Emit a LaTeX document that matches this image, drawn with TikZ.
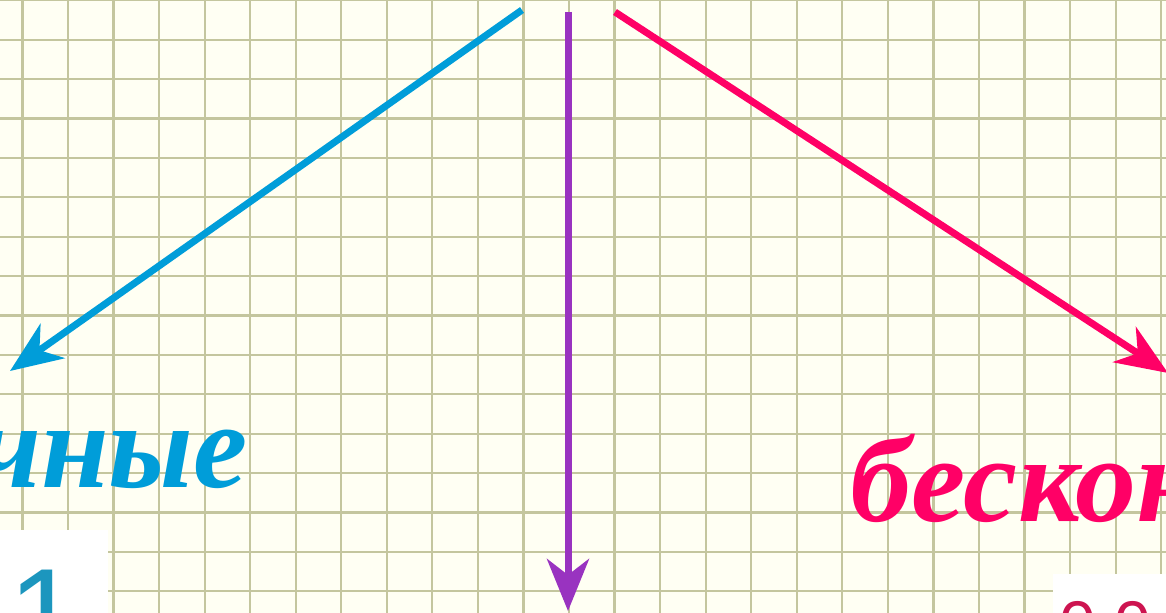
\documentclass[tikz,border=0pt]{standalone}
\usepackage{fontspec}
\setmainfont{Liberation Serif}
\newfontfamily\digitfont{Liberation Sans}
\usetikzlibrary{arrows.meta}
\definecolor{paper}{RGB}{255,255,243}
\definecolor{gridcol}{RGB}{196,198,158}
\definecolor{finblue}{RGB}{0,157,217}
\definecolor{perpurple}{RGB}{153,51,192}
\definecolor{infpink}{RGB}{255,0,102}
\definecolor{digteal}{RGB}{28,150,190}
\definecolor{digred}{RGB}{205,20,80}

\begin{document}
\begin{tikzpicture}[x=0.5pt,y=-0.5pt]

    \tikzset{
      gridline/.style={
        draw=gridcol,
        line width=1.1pt,
      },
      ray/.style={
        line width=3.5pt,
        -{Stealth[length=26pt,width=21pt,inset=8pt]},
      },
      word/.style={
        inner sep=0pt,
        font=\fontsize{61}{61}\selectfont\bfseries\itshape,
      },
      digits/.style={
        inner sep=0pt,
      },
    }
    \useasboundingbox (0,0) rectangle (1166,613);
    \clip (0,0) rectangle (1166,613);
    \fill[paper] (0,0) rectangle (1166,613);
    \foreach \i in {0,...,25}
      \draw[gridline] ({22.4+45.55*\i},0) -- ++(0,613);
    \foreach \j in {0,...,15}
      \draw[gridline] (0,{0.3+39.4*\j}) -- ++(1166,0);

    % white patches with the examples
    \fill[white] (0,530) rectangle (108,613);
    \fill[white] (1053,574) rectangle (1166,613);
    \node[digits, anchor=base west, text=digteal, font=\digitfont\fontsize{65}{65}\selectfont] (exfin) at (-100,660) {0,1};
    \node[digits, anchor=base west, text=digred, font=\digitfont\fontsize{33}{33}\selectfont] (exinf) at (1059,647) {0,0};

    % the three rays
    \coordinate (topfin) at (522,10);
    \coordinate (endfin) at (10,371);
    \coordinate (topper) at (568,12);
    \coordinate (endper) at (568,611);
    \coordinate (topinf) at (615,12);
    \coordinate (endinf) at (1168,373);
    \draw[ray, finblue] (topfin) -- (endfin);
    \draw[ray, perpurple] (topper) -- (endper);
    \draw[ray, infpink] (topinf) -- (endinf);

    \node[word, anchor=base east, text=finblue] (fin) at (248,488) {чные};
    \node[word, anchor=base west, text=infpink] (inf) at (850,522) {бескон};

\end{tikzpicture}
\end{document}
